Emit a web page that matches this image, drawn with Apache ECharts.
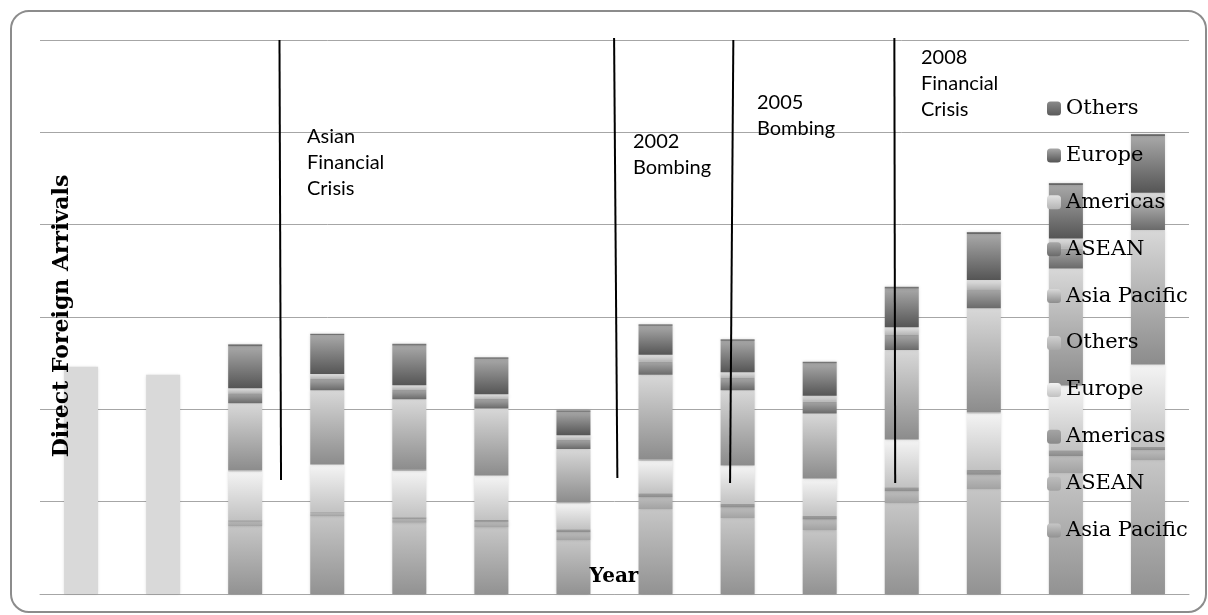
<!DOCTYPE html>
<html><head><meta charset="utf-8">
<script src="https://cdn.jsdelivr.net/npm/echarts@6/dist/echarts.min.js"></script>
<style>html,body{margin:0;padding:0;background:#fff}#c{width:1208px;height:615px}</style>
</head><body><div id="c"></div>
<script>
// Direct foreign arrivals (thousands)
const years = ['1997','1998','1999','2000','2001','2002','2003','2004','2005','2006','2007','2008','2009','2010'];
const totalOnly     = [1230,1187,'-','-','-','-','-','-','-','-','-','-','-','-'];
const loAsiaPacific = ['-','-',368,422,386,361,292,459,410,347,491,567,655,726];
const loASEAN       = ['-','-',24,16,22,30,43,65,58,57,65,79,92,54];
const loAmericas    = ['-','-',8,5,8,10,15,22,19,19,22,26,32,16];
const loEurope      = ['-','-',265,255,252,238,141,177,207,200,256,307,347,444];
const loOthers      = ['-','-',5,5,5,5,5,5,5,5,5,5,5,5];
const upAsiaPacific = ['-','-',363,401,381,361,289,459,405,350,482,563,632,726];
const upASEAN       = ['-','-',54,60,51,51,50,72,65,63,81,103,108,135];
const upAmericas    = ['-','-',27,27,26,26,25,36,32,32,42,50,54,67];
const upEurope      = ['-','-',227,211,214,192,127,157,171,176,210,249,290,307];
const upOthers      = ['-','-',11,7,10,8,8,9,8,8,10,11,11,11];

// Event annotations (category-position units on a hidden value axis, y in thousands)
const eventLabels = ['Asian\nFinancial\nCrisis','2002\nBombing','2005\nBombing','2008\nFinancial\nCrisis'];
const eventLineX  = [[2.918,2.937],[6.995,7.035],[8.448,8.408],[10.41,10.42]];
const eventLineY  = [[3000,617],[3011,628],[3000,601],[3011,601]];

const chart = echarts.init(document.getElementById('c'));
const g = (t,b) => new echarts.graphic.LinearGradient(0,0,0,1,[{offset:0,color:t},{offset:1,color:b}]);
const shadow = {shadowBlur:3, shadowColor:'rgba(0,0,0,0.18)'};
function bar(name, data, color){
  return {name, type:'bar', stack:'a', barWidth:34, data, itemStyle:Object.assign({color}, shadow), emphasis:{disabled:true}};
}
const series = [
  bar('Total', totalOnly, '#d9d9d9'),
  bar('Asia Pacific#l', loAsiaPacific, g('#c6c6c6','#929292')),
  bar('ASEAN#l', loASEAN, g('#bdbdbd','#a2a2a2')),
  bar('Americas#l', loAmericas, g('#a4a4a4','#8a8a8a')),
  bar('Europe#l', loEurope, g('#f4f4f4','#c2c2c2')),
  bar('Others#l', loOthers, g('#d0d0d0','#a8a8a8')),
  bar('Asia Pacific#u', upAsiaPacific, g('#d8d8d8','#8c8c8c')),
  bar('ASEAN#u', upASEAN, g('#a8a8a8','#6a6a6a')),
  bar('Americas#u', upAmericas, g('#e2e2e2','#b4b4b4')),
  bar('Europe#u', upEurope, g('#a8a8a8','#555555')),
  bar('Others#u', upOthers, g('#8a8a8a','#5a5a5a'))
];
eventLineX.forEach((xs,i)=>{
  series.push({name:'event'+i, type:'line', xAxisIndex:1, symbol:'none', silent:true, clip:false, z:5,
    lineStyle:{color:'#000', width:2}, data:[[xs[0],eventLineY[i][0]],[xs[1],eventLineY[i][1]]]});
});

const evFont = '20px Lato';
const evPos = [[307,124],[633,129],[757,90],[921,45]];
const graphics = [
  {type:'rect', shape:{x:11,y:11,width:1195,height:601,r:18}, style:{fill:null, stroke:'#8c8c8c', lineWidth:2}, z:0, silent:true},
  {type:'text', x:62, y:316, rotation:Math.PI/2, z:10, style:{text:'Direct Foreign Arrivals', font:'bold 22px "DejaVu Serif"', fill:'#000', align:'center', verticalAlign:'middle'}},
  {type:'text', x:614, y:577, z:10, style:{text:'Year', font:'bold 20px "DejaVu Serif"', fill:'#000', align:'center', verticalAlign:'middle'}}
];
eventLabels.forEach((t,i)=>{
  graphics.push({type:'text', x:evPos[i][0], y:evPos[i][1], z:10, style:{text:t, font:evFont, lineHeight:25.7, fill:'#000', align:'left', verticalAlign:'top'}});
});

chart.setOption({
  animation:false,
  backgroundColor:'#fff',
  grid:{left:40, right:19, top:40, bottom:21},
  xAxis:[
    {type:'category', data:years, axisLabel:{show:false}, axisTick:{show:false}, axisLine:{lineStyle:{color:'#a6a6a6'}}},
    {type:'value', min:0, max:14, show:false}
  ],
  yAxis:{type:'value', min:0, max:3000, interval:500, axisLabel:{show:false}, axisTick:{show:false}, axisLine:{show:false},
    splitLine:{lineStyle:{color:'#a6a6a6'}}},
  legend:{
    orient:'vertical', left:1042, top:93, itemWidth:14, itemHeight:14, itemGap:25.9, selectedMode:false,
    data:['Others#u','Europe#u','Americas#u','ASEAN#u','Asia Pacific#u','Others#l','Europe#l','Americas#l','ASEAN#l','Asia Pacific#l'],
    formatter: n => n.split('#')[0],
    textStyle:{fontFamily:'DejaVu Serif', fontSize:21, color:'#000', lineHeight:20}
  },
  graphic:graphics,
  series
});
</script></body></html>
